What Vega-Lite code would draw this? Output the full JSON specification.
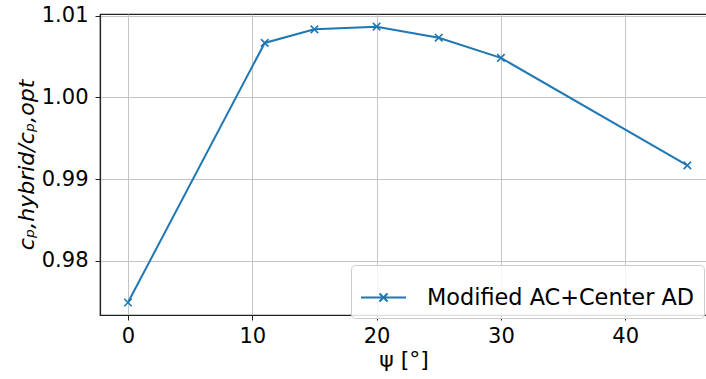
{
  "$schema": "https://vega.github.io/schema/vega-lite/v6.json",
  "width": 607,
  "height": 301,
  "autosize": {"type": "none"},
  "padding": {"left": 100, "top": 14, "right": 0, "bottom": 64},
  "background": "white",
  "config": {
    "font": "DejaVu Sans",
    "view": {"stroke": "#222222", "strokeWidth": 1.2},
    "axis": {
      "labelFont": "DejaVu Sans",
      "titleFont": "DejaVu Sans",
      "labelFontSize": 21,
      "titleFontSize": 22,
      "labelColor": "black",
      "titleColor": "black",
      "titleFontWeight": "normal",
      "domainColor": "#222222",
      "domainWidth": 1.2,
      "tickColor": "#222222",
      "tickSize": 5,
      "tickWidth": 1,
      "gridColor": "#c4c4c4",
      "gridWidth": 1
    }
  },
  "data": {
    "values": [
      {"psi": 0, "ratio": 0.9749, "series": "Modified AC+Center AD"},
      {"psi": 11, "ratio": 1.00667, "series": "Modified AC+Center AD"},
      {"psi": 15, "ratio": 1.00833, "series": "Modified AC+Center AD"},
      {"psi": 20, "ratio": 1.00866, "series": "Modified AC+Center AD"},
      {"psi": 25, "ratio": 1.00731, "series": "Modified AC+Center AD"},
      {"psi": 30, "ratio": 1.00484, "series": "Modified AC+Center AD"},
      {"psi": 45, "ratio": 0.99168, "series": "Modified AC+Center AD"}
    ]
  },
  "encoding": {
    "x": {
      "field": "psi",
      "type": "quantitative",
      "scale": {"domain": [-2.25, 46.58], "nice": false, "zero": false},
      "axis": {"values": [0, 10, 20, 30, 40], "title": "ψ [°]", "titlePadding": 3, "labelPadding": 5}
    },
    "y": {
      "field": "ratio",
      "type": "quantitative",
      "scale": {"domain": [0.97337, 1.01021], "nice": false, "zero": false},
      "axis": {"values": [0.98, 0.99, 1.0, 1.01], "format": ".2f", "title": "cₚ,hybrid/cₚ,opt", "titleFontStyle": "italic", "titlePadding": 3, "labelPadding": 7}
    },
    "color": {
      "field": "series",
      "type": "nominal",
      "scale": {"range": ["#1f77b4"]},
      "legend": {
        "title": null,
        "orient": "none",
        "legendX": 251,
        "legendY": 251,
        "symbolType": "M-1,0L1,0M-0.18,-0.18L0.18,0.18M-0.18,0.18L0.18,-0.18",
        "symbolSize": 2025,
        "symbolStrokeWidth": 2,
        "symbolFillColor": "transparent",
        "symbolStrokeColor": "#1f77b4",
        "labelFontSize": 22.4,
        "labelFont": "DejaVu Sans",
        "labelColor": "black",
        "labelLimit": 0,
        "labelOffset": 20,
        "padding": 9,
        "strokeColor": "#cccccc",
        "fillColor": "rgba(255,255,255,0.85)",
        "cornerRadius": 4,
        "rowPadding": 0
      }
    }
  },
  "layer": [
    {"mark": {"type": "line", "strokeWidth": 2, "clip": true}},
    {"mark": {"type": "point", "shape": "M-1,-1L1,1M-1,1L1,-1", "filled": false, "size": 56, "strokeWidth": 1.6, "opacity": 1, "clip": true}}
  ]
}
